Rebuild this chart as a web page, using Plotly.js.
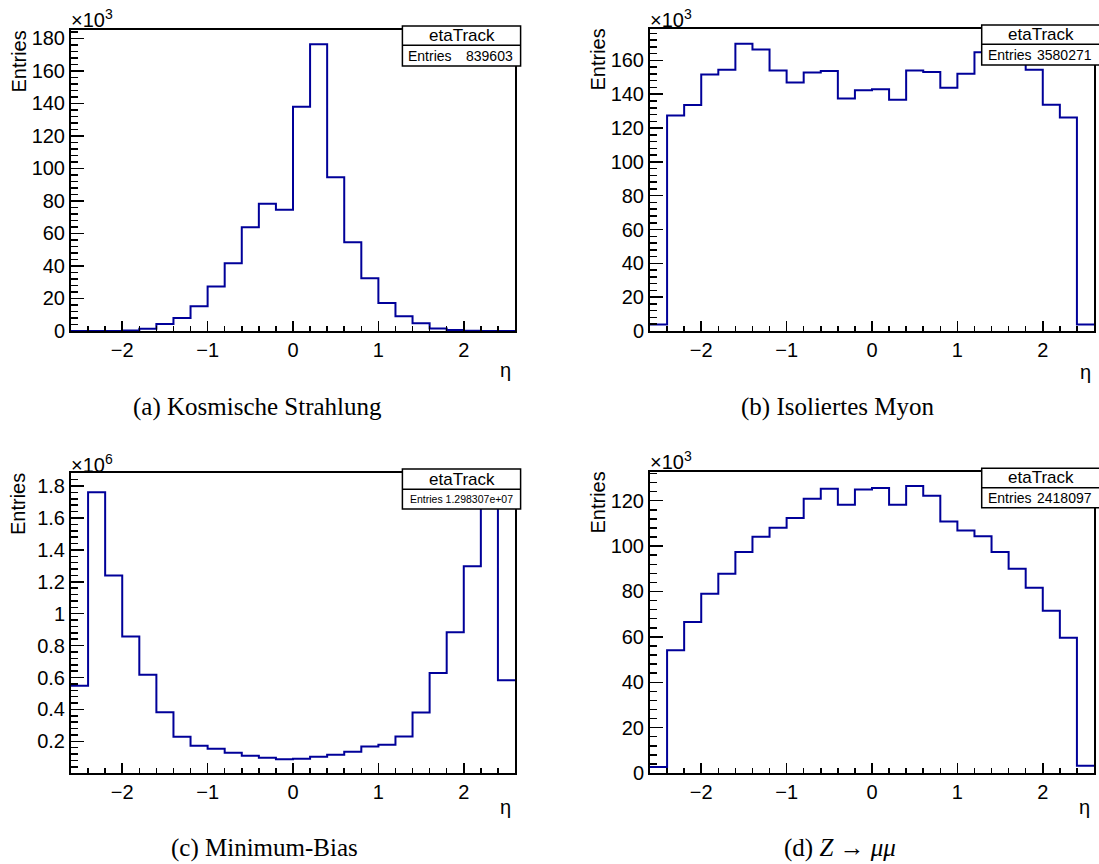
<!DOCTYPE html>
<html>
<head>
<meta charset="utf-8">
<script src="https://cdn.plot.ly/plotly-3.0.1.min.js"></script>
<style>
  html, body { margin: 0; padding: 0; background: #fff; }
  #chart { width: 1099px; height: 864px; }
</style>
</head>
<body>
<div id="chart"></div>
<script>
// ---- Data ----
// eta bin edges (26 bins of width 0.2 between -2.6 and 2.6)
const etaEdges = [-2.6, -2.4, -2.2, -2.0, -1.8, -1.6, -1.4, -1.2, -1.0, -0.8, -0.6, -0.4, -0.2,
                  0.0, 0.2, 0.4, 0.6, 0.8, 1.0, 1.2, 1.4, 1.6, 1.8, 2.0, 2.2, 2.4, 2.6];

// (a) Kosmische Strahlung, entries per bin in units of 10^3
const cosmicCounts = [0, 0, 0.05, 0.3, 1.4, 4.3, 8.0, 15.2, 27.3, 41.7, 63.8, 78.2, 74.5,
                      137.9, 176.3, 94.6, 54.6, 32.4, 17.2, 9.0, 4.7, 1.6, 0.6, 0.1, 0, 0];
// (b) Isoliertes Myon, units of 10^3
const muonCounts = [3.9, 127.5, 133.6, 151.7, 154.5, 169.9, 166.5, 154.1, 147.0, 152.9, 153.7, 137.5, 142.3,
                    142.9, 136.7, 154.1, 153.1, 143.8, 152.1, 164.9, 168.6, 168.0, 154.5, 133.8, 126.3, 3.9];
// (c) Minimum-Bias, units of 10^6
const minBiasCounts = [0.549, 1.762, 1.240, 0.857, 0.618, 0.382, 0.229, 0.173, 0.154, 0.129, 0.110, 0.097, 0.087,
                       0.091, 0.104, 0.116, 0.135, 0.167, 0.179, 0.231, 0.380, 0.629, 0.884, 1.298, 1.798, 0.583];
// (d) Z -> mu mu, units of 10^3
const zmumuCounts = [2.6, 54.1, 66.5, 79.0, 87.8, 97.4, 104.1, 108.1, 112.4, 120.9, 125.3, 118.2, 124.9,
                     125.6, 118.2, 126.5, 122.2, 110.9, 106.9, 104.4, 97.4, 90.0, 81.6, 71.5, 59.6, 3.2];

const histName = "etaTrack";
const entriesLabel = "Entries";
const entriesText = ["839603", "3580271", "1.298307e+07", "2418097"];
const multipliers = ["×10<sup>3</sup>", "×10<sup>3</sup>", "×10<sup>6</sup>", "×10<sup>3</sup>"];
const captions = ["(a) Kosmische Strahlung", "(b) Isoliertes Myon", "(c) Minimum-Bias", "(d) <i>Z</i> → <i>μμ</i>"];
const yTitle = "Entries";
const xTitle = "η";

// ---- Layout helpers (pixel -> paper) ----
const W = 1099, H = 864;
const px = v => v / W;
const py = v => 1 - v / H;

const SANS = "Liberation Sans, Arial, Helvetica, sans-serif";
const SERIF = "Liberation Serif, Times New Roman, serif";
const LINE = "rgb(0,0,153)";

// panel geometry in pixels
const panels = [
  {x0: 71,  x1: 515,  y0: 30,    y1: 331, yr: [0, 185.1], dt: 20,  mdt: 4,    counts: cosmicCounts,
   box: {x0: 402.4, x1: 520.6, y0: 26, yd: 45.3, y1: 66}, entFont: 14, single: false, ytl: [18, 61.5], mult: [69, 19], eta: [505, 370]},
  {x0: 650, x1: 1094, y0: 29.3,  y1: 331, yr: [0, 178.4], dt: 20,  mdt: 4,    counts: muonCounts,
   box: {x0: 981.7, x1: 1102, y0: 25, yd: 44.3, y1: 65}, entFont: 14, single: false, ytl: [597.5, 60], mult: [648, 18], eta: [1085, 372]},
  {x0: 71,  x1: 515,  y0: 472.7, y1: 773, yr: [0.0014, 1.884], dt: 0.2, mdt: 0.04, counts: minBiasCounts,
   box: {x0: 402.4, x1: 520.6, y0: 469, yd: 489.3, y1: 509}, entFont: 10.5, single: true, ytl: [18, 504], mult: [69, 463], eta: [505, 807]},
  {x0: 650, x1: 1094, y0: 471.7, y1: 773, yr: [0, 132.8], dt: 20,  mdt: 4,    counts: zmumuCounts,
   box: {x0: 981.7, x1: 1102, y0: 468.3, yd: 487.7, y1: 507.7}, entFont: 14, single: false, ytl: [597.5, 503], mult: [648, 460], eta: [1084, 807]}
];
const captionPos = [[257, 407], [838, 407], [264, 848], [840, 848]];

const traces = [];
const layout = {
  width: W, height: H,
  margin: {l: 0, r: 0, t: 0, b: 0},
  paper_bgcolor: "#fff", plot_bgcolor: "#fff",
  showlegend: false,
  font: {family: SANS, color: "#000", size: 20},
  shapes: [], annotations: []
};

panels.forEach((p, i) => {
  const n = i === 0 ? "" : String(i + 1);
  const stepY = p.counts.concat([p.counts[p.counts.length - 1]]);
  traces.push({
    type: "scatter", mode: "lines",
    x: etaEdges, y: stepY,
    line: {shape: "hv", color: LINE, width: 2},
    xaxis: "x" + n, yaxis: "y" + n,
    hoverinfo: "skip"
  });
  const common = {
    showline: true, linecolor: "#000", linewidth: 2, mirror: true,
    ticks: "inside", tickcolor: "#000", tickwidth: 1.5,
    showgrid: false, zeroline: false, fixedrange: true,
    tickfont: {family: SANS, size: 20, color: "#000"}
  };
  layout["xaxis" + n] = Object.assign({}, common, {
    domain: [px(p.x0), px(p.x1)],
    anchor: "y" + n,
    range: [etaEdges[0], etaEdges[etaEdges.length - 1]],
    tickmode: "linear", tick0: 0, dtick: 1, ticklen: 10,
    minor: {ticks: "inside", tick0: 0, dtick: 0.2, ticklen: 5, tickwidth: 1.5, tickcolor: "#000", showgrid: false}
  });
  layout["yaxis" + n] = Object.assign({}, common, {
    domain: [py(p.y1), py(p.y0)],
    anchor: "x" + n,
    range: p.yr,
    tickmode: "linear", tick0: 0, dtick: p.dt, ticklen: 13,
    minor: {ticks: "inside", tick0: 0, dtick: p.mdt, ticklen: 7, tickwidth: 1.5, tickcolor: "#000", showgrid: false}
  });

  // stats box
  const b = p.box;
  layout.shapes.push({type: "rect", xref: "paper", yref: "paper",
    x0: px(b.x0), x1: px(b.x1), y0: py(b.y1), y1: py(b.y0),
    fillcolor: "#fff", line: {color: "#000", width: 1.5}, layer: "above"});
  layout.shapes.push({type: "line", xref: "paper", yref: "paper",
    x0: px(b.x0), x1: px(b.x1), y0: py(b.yd), y1: py(b.yd),
    line: {color: "#000", width: 1.5}, layer: "above"});
  const right = Math.min(b.x1, 1099.6);
  layout.annotations.push({xref: "paper", yref: "paper", x: px((b.x0 + right) / 2), y: py((b.y0 + b.yd) / 2),
    text: histName, showarrow: false, xanchor: "center", yanchor: "middle",
    font: {family: SANS, size: 17, color: "#000"}});
  if (p.single) {
    layout.annotations.push({xref: "paper", yref: "paper", x: px((b.x0 + right) / 2), y: py((b.yd + b.y1) / 2),
      text: entriesLabel + " " + entriesText[i], showarrow: false, xanchor: "center", yanchor: "middle",
      font: {family: SANS, size: p.entFont, color: "#000"}});
  } else {
    layout.annotations.push({xref: "paper", yref: "paper", x: px(b.x0 + 4), y: py((b.yd + b.y1) / 2),
      text: entriesLabel, showarrow: false, xanchor: "left", yanchor: "middle",
      font: {family: SANS, size: p.entFont, color: "#000"}});
    layout.annotations.push({xref: "paper", yref: "paper", x: px(right - 6), y: py((b.yd + b.y1) / 2),
      text: entriesText[i], showarrow: false, xanchor: "right", yanchor: "middle",
      font: {family: SANS, size: p.entFont, color: "#000"}});
  }

  // axis titles
  layout.annotations.push({xref: "paper", yref: "paper", x: px(p.ytl[0]), y: py(p.ytl[1]),
    text: yTitle, textangle: -90, showarrow: false, xanchor: "center", yanchor: "middle",
    font: {family: SANS, size: 20, color: "#000"}});
  layout.annotations.push({xref: "paper", yref: "paper", x: px(p.eta[0]), y: py(p.eta[1]),
    text: xTitle, showarrow: false, xanchor: "center", yanchor: "middle",
    font: {family: SANS, size: 20, color: "#000"}});
  layout.annotations.push({xref: "paper", yref: "paper", x: px(p.mult[0]), y: py(p.mult[1]),
    text: multipliers[i], showarrow: false, xanchor: "left", yanchor: "middle",
    font: {family: SANS, size: 20, color: "#000"}});

  // caption
  layout.annotations.push({xref: "paper", yref: "paper", x: px(captionPos[i][0]), y: py(captionPos[i][1]),
    text: captions[i], showarrow: false, xanchor: "center", yanchor: "middle",
    font: {family: SERIF, size: 25, color: "#000"}});
});

Plotly.newPlot("chart", traces, layout, {staticPlot: true, displayModeBar: false});
</script>
</body>
</html>
